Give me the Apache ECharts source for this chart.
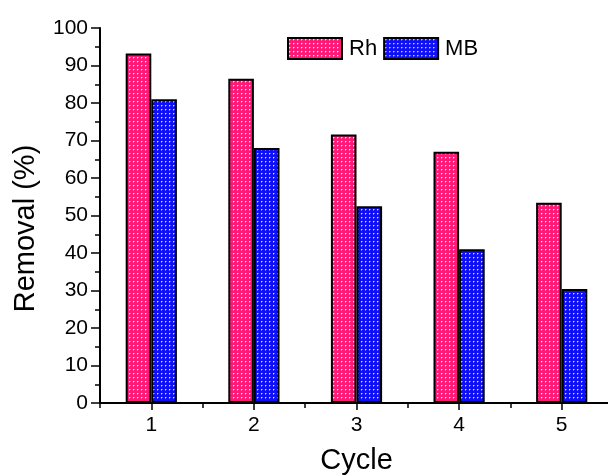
<!DOCTYPE html>
<html>
<head>
<meta charset="utf-8">
<script src="https://cdn.jsdelivr.net/npm/echarts@6/dist/echarts.min.js"></script>
<style>html,body{margin:0;padding:0;background:#fff}#c{width:608px;height:476px}</style>
</head>
<body>
<div id="c"></div>
<script>
var cycles = ['1', '2', '3', '4', '5'];
var rhValues = [93.2, 86.5, 71.6, 67.0, 53.4];
var mbValues = [81.0, 68.0, 52.5, 41.0, 30.4];
var yTicks = {min: 0, max: 100, interval: 10};

function dotPattern(bg) {
  var c = document.createElement('canvas');
  c.width = 4; c.height = 4;
  var g = c.getContext('2d');
  g.fillStyle = bg; g.fillRect(0, 0, 4, 4);
  g.fillStyle = 'rgba(255,255,255,0.85)';
  g.fillRect(1, 1, 1, 1);
  g.fillStyle = 'rgba(255,255,255,0.35)';
  g.fillRect(2, 1, 1, 1); g.fillRect(1, 2, 1, 1);
  return {image: c, repeat: 'repeat'};
}

var font = 'Liberation Sans, Arial, sans-serif';
var chart = echarts.init(document.getElementById('c'), null, {renderer: 'canvas'});
chart.setOption({
  animation: false,
  backgroundColor: '#fff',
  grid: {left: 100, right: -5, top: 28, bottom: 73, containLabel: false, outerBoundsMode: 'none'},
  legend: {
    left: 282, top: 32, itemWidth: 54, itemHeight: 21, itemGap: 6,
    icon: 'rect',
    itemStyle: {borderColor: '#000', borderWidth: 2},
    textStyle: {fontFamily: font, fontSize: 22, color: '#000', padding: [0, 0, 0, 2]},
    data: ['Rh', 'MB']
  },
  xAxis: [{
    type: 'category', data: cycles, position: 'bottom',
    name: 'Cycle', nameLocation: 'middle', nameGap: 43,
    nameTextStyle: {fontFamily: font, fontSize: 29, color: '#000'},
    axisLine: {show: true, lineStyle: {color: '#000', width: 2}},
    axisTick: {show: true, alignWithLabel: true, length: 7, lineStyle: {color: '#000', width: 1.5}},
    axisLabel: {fontFamily: font, fontSize: 21, color: '#000', margin: 12},
    splitLine: {show: false}
  }, {
    type: 'category', data: cycles, position: 'bottom', offset: 0,
    axisLine: {show: false},
    axisTick: {show: true, alignWithLabel: false, length: 5, lineStyle: {color: '#000', width: 1.5}},
    axisLabel: {show: false},
    splitLine: {show: false}
  }],
  yAxis: {
    type: 'value', min: yTicks.min, max: yTicks.max, interval: yTicks.interval,
    name: 'Removal (%)', nameLocation: 'middle', nameGap: 60,
    nameTextStyle: {fontFamily: font, fontSize: 29, color: '#000', padding: [0, 26, 0, 0]},
    axisLine: {show: true, lineStyle: {color: '#000', width: 2}},
    axisTick: {show: true, length: 9, lineStyle: {color: '#000', width: 1.5}},
    minorTick: {show: true, splitNumber: 2, length: 5, lineStyle: {color: '#000', width: 1.5}},
    axisLabel: {fontFamily: font, fontSize: 21, color: '#000', margin: 12},
    splitLine: {show: false}
  },
  series: [{
    name: 'Rh', type: 'bar', data: rhValues, barWidth: 25.6, barGap: '0%',
    itemStyle: {color: dotPattern('#ff1a78'), borderColor: '#000', borderWidth: 2}
  }, {
    name: 'MB', type: 'bar', data: mbValues, barWidth: 25.6, barGap: '0%',
    itemStyle: {color: dotPattern('#1010f5'), borderColor: '#000', borderWidth: 2}
  }]
});
</script>
</body>
</html>
